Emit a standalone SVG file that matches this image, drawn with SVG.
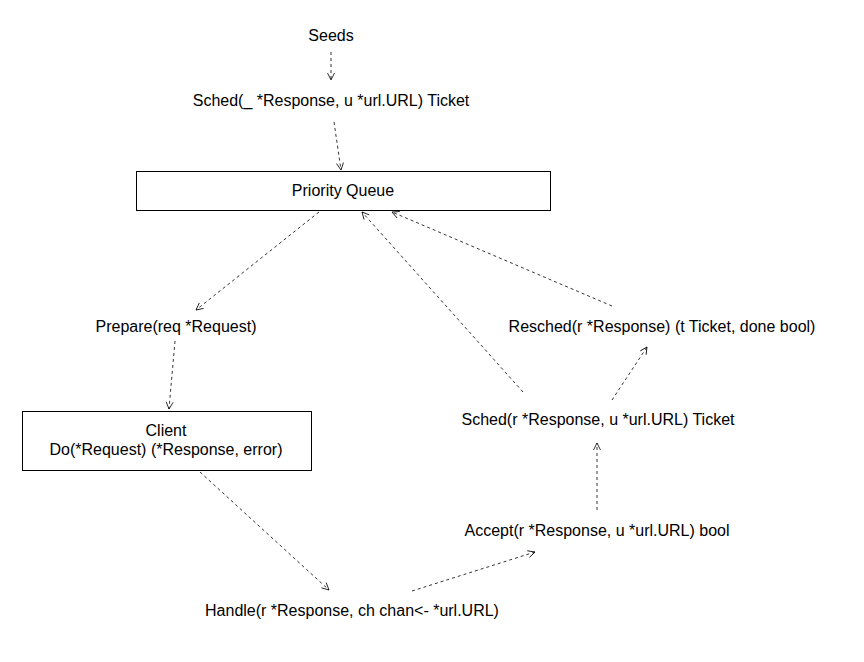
<svg xmlns="http://www.w3.org/2000/svg" width="864" height="662" viewBox="0 0 864 662">
<defs>
<style>
text{font-family:"Liberation Sans",Arial,sans-serif;font-size:16px;fill:#000;text-anchor:middle}
.box{fill:#fff;stroke:#000;stroke-width:1}
.c{fill:none;stroke:#000;stroke-width:0.8;stroke-dasharray:3 3;marker-end:url(#a)}
</style>
<marker id="a" markerWidth="10" markerHeight="10" refX="8" refY="4" orient="auto" markerUnits="userSpaceOnUse">
<path d="M1,0.5 L8,4 L1,7.5" fill="none" stroke="#000" stroke-width="0.8"/>
</marker>
</defs>
<rect width="864" height="662" fill="#fff"/>
<g id="connectors">
<line class="c" x1="331" y1="52" x2="331" y2="80"/>
<line class="c" x1="334" y1="122" x2="341" y2="170"/>
<line class="c" x1="319" y1="212" x2="196" y2="310"/>
<line class="c" x1="175" y1="341" x2="169" y2="409"/>
<line class="c" x1="200" y1="472" x2="329" y2="590"/>
<line class="c" x1="412" y1="591" x2="535" y2="552"/>
<line class="c" x1="597" y1="510" x2="597" y2="443"/>
<line class="c" x1="612" y1="400" x2="647" y2="347"/>
<line class="c" x1="612" y1="306" x2="392" y2="212"/>
<line class="c" x1="523" y1="392" x2="362" y2="212"/>
</g>
<g id="seeds"><text x="331" y="41">Seeds</text></g>
<g id="sched0"><text x="331" y="106">Sched(_ *Response, u *url.URL) Ticket</text></g>
<g id="pq"><rect class="box" x="136.5" y="171.5" width="414" height="39"/><text x="343" y="196">Priority Queue</text></g>
<g id="prepare"><text x="176" y="332">Prepare(req *Request)</text></g>
<g id="client"><rect class="box" x="22.5" y="411.5" width="289" height="59"/><text x="166" y="436">Client</text><text x="166" y="455">Do(*Request) (*Response, error)</text></g>
<g id="handle"><text x="352" y="616">Handle(r *Response, ch chan&lt;- *url.URL)</text></g>
<g id="accept"><text x="597" y="536">Accept(r *Response, u *url.URL) bool</text></g>
<g id="sched1"><text x="598" y="425">Sched(r *Response, u *url.URL) Ticket</text></g>
<g id="resched"><text x="662" y="332">Resched(r *Response) (t Ticket, done bool)</text></g>
</svg>
